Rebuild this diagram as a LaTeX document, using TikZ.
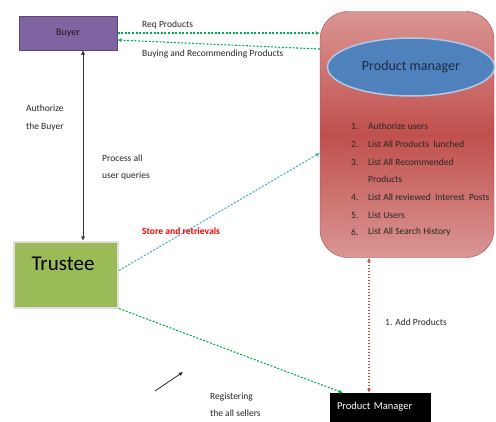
\documentclass[tikz,border=0pt]{standalone}
\usepackage{fontspec}
\setmainfont{Carlito}
\usetikzlibrary{arrows.meta,shapes.geometric}
\definecolor{buyerfill}{HTML}{8064A2}
\definecolor{buyerline}{HTML}{5C4776}
\definecolor{trusteefill}{HTML}{9BBB59}
\definecolor{pmred}{HTML}{C0504D}
\definecolor{pmlight}{HTML}{DA9694}
\definecolor{pmline}{HTML}{A9423F}
\definecolor{ovalfill}{HTML}{4F81BD}
\definecolor{ovalline}{HTML}{B4C7E7}
\definecolor{navytext}{HTML}{1F2A44}
\definecolor{flowgreen}{HTML}{00B050}
\definecolor{flowblue}{HTML}{4BACC6}
\begin{document}
\begin{tikzpicture}[x=1pt, y=-1pt,
    every node/.append style={font=\fontsize{9.5}{17.5}\selectfont, text=black!85},
    buyerbox/.style={rectangle, draw=buyerline, line width=1pt, fill=buyerfill, minimum width=98pt, minimum height=34pt, text=black!90, font=\fontsize{10}{12}\selectfont},
    trusteebox/.style={rectangle, draw=gray!25, line width=2pt, fill=trusteefill, minimum width=104pt, minimum height=66pt},
    pmbox/.style={rectangle, rounded corners=28pt, draw=pmline, top color=pmlight, bottom color=pmlight, middle color=pmred, minimum width=174pt, minimum height=246pt},
    pmoval/.style={ellipse, draw=ovalline, line width=1.5pt, fill=ovalfill, minimum width=167pt, minimum height=58pt, text=navytext, font=\fontsize{14}{16}\selectfont},
    sellerbox/.style={rectangle, draw=black, fill=black, minimum width=100pt, minimum height=28pt, text width=86pt, align=left, text=white, font=\fontsize{10.5}{12}\selectfont},
    listitem/.style={anchor=west, inner sep=0pt, text=black!85},
    note/.style={anchor=west, align=left, inner sep=0pt},
    greenflow/.style={draw=flowgreen, line width=1.1pt, dash pattern=on 2pt off 1.6pt},
    blueflow/.style={draw=flowblue, line width=1.1pt, dash pattern=on 2pt off 1.6pt},
    redflow/.style={draw=pmred, line width=1.1pt, dash pattern=on 1.5pt off 1.5pt},
    tip/.style={-{Latex[length=4pt,width=4pt]}}
]
    \useasboundingbox (0,0) rectangle (496,421);

    % Buyer
    \node[buyerbox] (buyer) at (68,33) {Buyer};

    % Trustee
    \node[trusteebox] (trustee) at (66,274.5) {};
    \node[font=\fontsize{21}{24}\selectfont, text=black] (trusteetext) at (63,264) {Trustee};

    % Product manager block
    \node[pmbox] (pmgr) at (407,134.5) {};
    \node[pmoval] (pmoval) at (411,67) {Product manager};
    \node[listitem] (n1) at (351,126) {1.};
    \node[listitem] (t1) at (368,126) {Authorize users};
    \node[listitem] (n2) at (351,144) {2.};
    \node[listitem] (t2) at (368,144) {List All Products\ \ lunched};
    \node[listitem] (n3) at (351,162) {3.};
    \node[listitem] (t3) at (368,162) {List All Recommended};
    \node[listitem] (t3b) at (368,179) {Products};
    \node[listitem] (n4) at (351,197) {4.};
    \node[listitem] (t4) at (368,197) {List All reviewed\ \ Interest\ \ Posts};
    \node[listitem] (n5) at (351,215) {5.};
    \node[listitem] (t5) at (368,215) {List Users};
    \node[listitem] (n6) at (351,232) {6.};
    \node[listitem] (t6) at (368,232) {List All Search History};

    % Product Manager (seller side)
    \node[sellerbox] (seller) at (380,407) {Product Manager};

    % Flows
    \draw[greenflow, tip] (buyer.east) -- (buyer.east -| pmgr.west);
    \draw[greenflow, tip] ([yshift=-16pt]buyer.east -| pmgr.west) -- ([yshift=-7pt]buyer.east);
    \draw[{Latex[length=4pt,width=4pt]}-{Latex[length=4pt,width=4pt]}, black!80] ([xshift=15pt]buyer.south) -- ([xshift=15pt]buyer.south |- trustee.north);
    \draw[blueflow, tip] ([yshift=4pt]trustee.east) -- ([yshift=-18.5pt]pmgr.west);
    \draw[greenflow, tip] (trustee.south east) -- ([xshift=13pt]seller.north west);
    \draw[redflow, {Latex[length=4pt,width=4pt]}-{Latex[length=4pt,width=4pt]}] ([xshift=-11pt]seller.north) -- ([xshift=-11pt]seller.north |- pmgr.south);

    \coordinate (freestart) at (155,391);
    \coordinate (freeend) at (183,372);
    \draw[tip, black!85, line width=0.8pt] (freestart) -- (freeend);

    % Labels
    \node[note] (reqlabel) at (142,25) {Req Products};
    \node[note] (buylabel) at (142,54) {Buying and Recommending Products};
    \node[note] (authlabel) at (26,118) {Authorize\\the Buyer};
    \node[note] (querylabel) at (102,167.5) {Process all\\user queries};
    \node[note, text=red, font=\fontsize{9.6}{11}\selectfont\bfseries] (storelabel) at (142,231) {Store and retrievals};
    \node[note] (addlabel) at (385,322) {1. Add Products};
    \node[note] (reglabel) at (210,405) {Registering\\the all sellers};

\end{tikzpicture}
\end{document}
